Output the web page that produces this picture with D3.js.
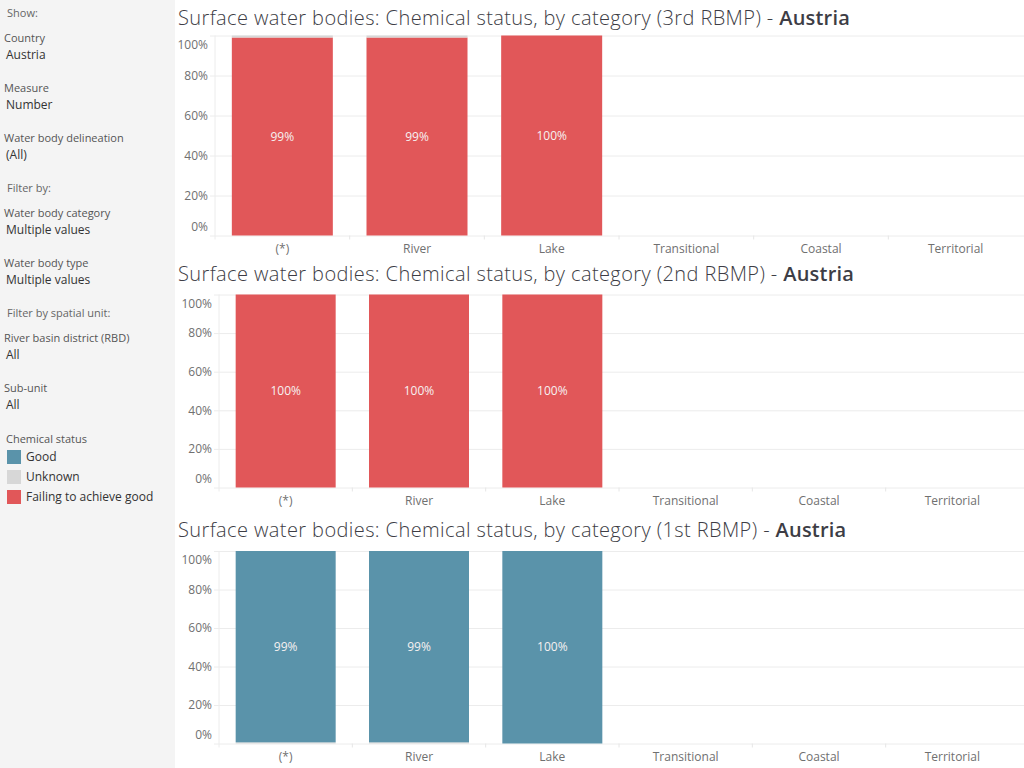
<!DOCTYPE html>
<html>
<head>
<meta charset="utf-8">
<script src="https://cdn.jsdelivr.net/npm/d3@7"></script>
<style>
    body { margin: 0; background: #fff; }
    svg { display: block; font-family: 'Open Sans', sans-serif; }
</style>
</head>
<body>
<svg id="chart" width="1024" height="768"></svg>
<script>
// categories on the x axis
const categories = ['(*)', 'River', 'Lake', 'Transitional', 'Coastal', 'Territorial'];
const yTicks = [0, 0.2, 0.4, 0.6, 0.8, 1];
// stack order, bottom to top
const statuses = ['Failing to achieve good', 'Unknown', 'Good'];
const legendOrder = ['Good', 'Unknown', 'Failing to achieve good'];
const statusColors = ['#e15759', '#d7d7d7', '#5a93aa'];

// share of water bodies (%) per category
const failing3rd = [99, 99, 100, 0, 0, 0];
const unknown3rd = [1, 1, 0, 0, 0, 0];
const good3rd = [0, 0, 0, 0, 0, 0];

const failing2nd = [100, 100, 100, 0, 0, 0];
const unknown2nd = [0, 0, 0, 0, 0, 0];
const good2nd = [0, 0, 0, 0, 0, 0];

const failing1st = [0, 0, 0, 0, 0, 0];
const unknown1st = [0.6, 0.6, 0, 0, 0, 0];
const good1st = [99.4, 99.4, 100, 0, 0, 0];

const cycles = ['3rd RBMP', '2nd RBMP', '1st RBMP'];
const country = 'Austria';

// sidebar filter cards: [heading, value]
const filterCards = [
    ['Show:', null],
    ['Country', 'Austria'],
    ['Measure', 'Number'],
    ['Water body delineation', '(All)'],
    ['Filter by:', null],
    ['Water body category', 'Multiple values'],
    ['Water body type', 'Multiple values'],
    ['Filter by spatial unit:', null],
    ['River basin district (RBD)', 'All'],
    ['Sub-unit', 'All']
];

var Dashboard = function() {

    const svg = d3.select('#chart');
    const axisColor = '#707070';

    const panels = [
        { cycle: cycles[0], data: [failing3rd, unknown3rd, good3rd],
          titleY: 25, x0: 215, x1: 1023, yTop: 35.5, yBottom: 235.5, labelX: 208, xLabelY: 252 },
        { cycle: cycles[1], data: [failing2nd, unknown2nd, good2nd],
          titleY: 281, x0: 219, x1: 1019, yTop: 294.5, yBottom: 487.5, labelX: 212, xLabelY: 504 },
        { cycle: cycles[2], data: [failing1st, unknown1st, good1st],
          titleY: 537, x0: 219, x1: 1019, yTop: 551, yBottom: 743.5, labelX: 212, xLabelY: 760 }
    ];

    var buildSidebar = function() {
        const side = svg.append('g');
        side.append('rect')
            .attr('width', 175)
            .attr('height', 768)
            .attr('fill', '#f4f4f4');

        let y = 13;
        filterCards.forEach((c) => {
            const section = c[1] === null;
            side.append('text')
                .attr('x', section ? 7 : 4)
                .attr('y', y)
                .attr('dy', '0.35em')
                .attr('font-size', 11)
                .attr('fill', section ? '#666' : '#555')
                .text(c[0]);
            if (!section) {
                side.append('text')
                    .attr('x', 6)
                    .attr('y', y + 17)
                    .attr('dy', '0.35em')
                    .attr('font-size', 12)
                    .attr('fill', '#333')
                    .text(c[1]);
                y += 50;
            } else {
                y += 25;
            }
        });

        side.append('text')
            .attr('x', 6)
            .attr('y', 439)
            .attr('dy', '0.35em')
            .attr('font-size', 11)
            .attr('fill', '#555')
            .text('Chemical status');

        const item = side.selectAll('g.legend')
            .data(legendOrder)
            .enter()
            .append('g')
            .attr('class', 'legend')
            .attr('transform', (d, i) => `translate(7, ${450 + i * 20})`);
        item.append('rect')
            .attr('width', 14)
            .attr('height', 14)
            .attr('fill', (d) => statusColors[statuses.indexOf(d)]);
        item.append('text')
            .attr('x', 19)
            .attr('y', 7)
            .attr('dy', '0.35em')
            .attr('font-size', 12)
            .attr('fill', '#333')
            .text((d) => d);
    };

    var buildPanel = function(p) {
        const g = svg.append('g');

        const title = g.append('text')
            .attr('x', 178)
            .attr('y', p.titleY)
            .attr('font-size', 20)
            .attr('letter-spacing', 0.4)
            .attr('fill', '#3d3d45');
        title.append('tspan')
            .attr('font-weight', 300)
            .text(`Surface water bodies: Chemical status, by category (${p.cycle}) - `);
        title.append('tspan')
            .attr('font-weight', 600)
            .attr('letter-spacing', 0.2)
            .text(country);

        const xScale = d3.scaleBand()
            .domain(categories)
            .range([p.x0, p.x1])
            .paddingInner(0.25)
            .paddingOuter(0.125);
        const yScale = d3.scaleLinear()
            .domain([0, 1])
            .range([p.yBottom, p.yTop]);

        // horizontal grid
        g.append('g')
            .attr('transform', `translate(${p.x0 - 5}, 0)`)
            .call(d3.axisLeft(yScale)
                .tickValues(yTicks)
                .tickSize(-(1024 - p.x0 + 5))
                .tickFormat(''))
            .call((a) => a.select('.domain').remove())
            .selectAll('line')
            .attr('stroke', '#ececec');

        // left edge + band separators
        g.append('line')
            .attr('x1', p.x0).attr('x2', p.x0)
            .attr('y1', p.yTop).attr('y2', p.yBottom + 4)
            .attr('stroke', '#ececec');
        g.selectAll('line.sep')
            .data(categories.slice(1))
            .enter()
            .append('line')
            .attr('class', 'sep')
            .attr('x1', (d) => xScale(d) - xScale.step() * xScale.paddingInner() / 2)
            .attr('x2', (d) => xScale(d) - xScale.step() * xScale.paddingInner() / 2)
            .attr('y1', p.yBottom)
            .attr('y2', p.yBottom + 4)
            .attr('stroke', '#e6e6e6');

        // y labels, end labels pulled inside the plot
        const yAxis = g.append('g')
            .attr('transform', `translate(${p.labelX}, 0)`)
            .call(d3.axisLeft(yScale)
                .tickValues(yTicks)
                .tickSize(0)
                .tickPadding(0)
                .tickFormat(d3.format('.0%')));
        yAxis.select('.domain').remove();
        yAxis.selectAll('text')
            .attr('font-family', 'Open Sans, sans-serif')
            .attr('font-size', 12)
            .attr('fill', axisColor)
            .attr('dy', (d) => d === 1 ? '1.05em' : d === 0 ? '-0.4em' : '0.32em');

        // x labels
        const xAxis = g.append('g')
            .attr('transform', `translate(0, ${p.xLabelY - 8})`)
            .call(d3.axisBottom(xScale).tickSize(0).tickPadding(0));
        xAxis.select('.domain').remove();
        xAxis.selectAll('text')
            .attr('font-family', 'Open Sans, sans-serif')
            .attr('font-size', 12)
            .attr('fill', axisColor);

        // stacked bars
        const rows = categories.map((c, i) => {
            const row = { category: c };
            statuses.forEach((s, k) => { row[s] = p.data[k][i] / 100; });
            return row;
        });
        const stacked = d3.stack().keys(statuses)(rows);

        g.selectAll('g.series')
            .data(stacked)
            .enter()
            .append('g')
            .attr('fill', (d, k) => statusColors[k])
            .selectAll('rect')
            .data((d) => d.filter((s) => s[1] - s[0] > 0))
            .enter()
            .append('rect')
            .attr('x', (s) => xScale(s.data.category))
            .attr('y', (s) => yScale(s[1]))
            .attr('width', xScale.bandwidth())
            .attr('height', (s) => yScale(s[0]) - yScale(s[1]));

        // value label on the main segment
        const main = [];
        rows.forEach((r, i) => {
            let best = null;
            stacked.forEach((layer) => {
                const s = layer[i];
                if (s[1] - s[0] > 0 && (!best || s[1] - s[0] > best[1] - best[0])) best = s;
            });
            if (best) main.push(best);
        });
        g.selectAll('text.value')
            .data(main)
            .enter()
            .append('text')
            .attr('class', 'value')
            .attr('x', (s) => xScale(s.data.category) + xScale.bandwidth() / 2)
            .attr('y', (s) => (yScale(s[0]) + yScale(s[1])) / 2)
            .attr('dy', '0.35em')
            .attr('text-anchor', 'middle')
            .attr('font-size', 12)
            .attr('fill', '#f6f1f1')
            .text((s) => d3.format('.0%')(Math.floor((s[1] - s[0]) * 100) / 100));
    };

    return {
        init: function() {
            buildSidebar();
            panels.forEach(buildPanel);
        }
    };
}();

document.addEventListener('DOMContentLoaded', function() {
    Dashboard.init();
});
</script>
</body>
</html>
